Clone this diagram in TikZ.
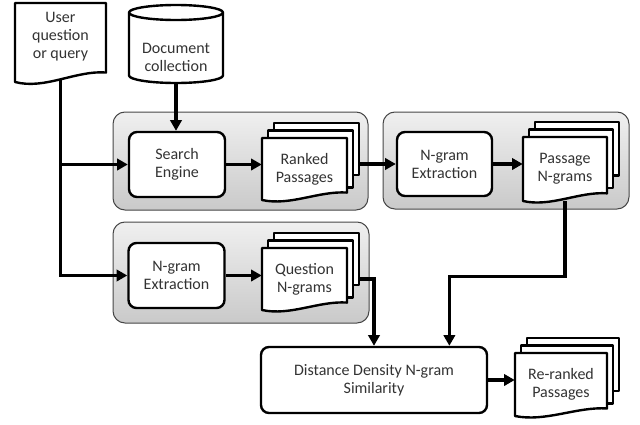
\documentclass[tikz,border=0pt]{standalone}
\usepackage{fontspec}
\setmainfont{Carlito}
\usetikzlibrary{arrows.meta,calc}
\pgfdeclarelayer{bg}
\pgfdeclarelayer{lines}
\pgfsetlayers{bg,lines,main}

\tikzset{every picture/.style={line width=0.75pt}}
\tikzset{
  groupbox/.style={draw=gray!55!black, line width=0.75pt, rounded corners=9pt,
    top color=gray!12, bottom color=gray!42, inner sep=0pt},
  procbox/.style={draw=black, line width=1.8pt, fill=white, rounded corners=6pt,
    minimum width=72pt, minimum height=48.75pt, align=center, inner sep=0pt,
    font=\fontsize{12}{13.5}\selectfont, text=black!80},
  doctext/.style={align=center, inner sep=0pt,
    font=\fontsize{12}{13.5}\selectfont, text=black!80},
  docline/.style={draw=black, line width=1.8pt, fill=white, line join=round},
  flow/.style={line width=2.6pt, -{Triangle[length=8pt,width=8.5pt]}},
}

% sheet with a wavy bottom: left, top, width, height
\newcommand{\wavedoc}[4]{%
  \draw[docline] (#1,#2) -- ({#1+#3},#2) -- ({#1+#3},{#2+0.88*#4})
    .. controls ({#1+0.67*#3},{#2+0.85*#4}) and ({#1+0.33*#3},{#2+1.1*#4}) .. (#1,{#2+#4}) -- cycle;}
% three stacked sheets
\newcommand{\docstack}[4]{%
  \draw[docline] ({#1+12},{#2-15}) rectangle ({#1+#3+12},{#2+0.6*#4});
  \draw[docline] ({#1+6},{#2-7.5}) rectangle ({#1+#3+6},{#2+0.8*#4});
  \wavedoc{#1}{#2}{#3}{#4}}

\begin{document}
\begin{tikzpicture}[x=0.75pt,y=0.75pt,yscale=-1,xscale=1]
\useasboundingbox (0,0) rectangle (640,425);

% grey frames
\begin{pgfonlayer}{bg}
\node[groupbox, minimum width=191.25pt, minimum height=73.5pt] (retrieve) at (240.5,161) {};
\node[groupbox, minimum width=184.5pt, minimum height=72.75pt] (pextract) at (506,160.5) {};
\node[groupbox, minimum width=192pt, minimum height=75.75pt] (qextract) at (241,272.5) {};
\end{pgfonlayer}

%Shape: Document
\wavedoc{15}{3}{91}{79}
% Text Node
\node[doctext, minimum height=64.5pt] (user) at (60.5,37) {User\\question\\or query};

%Shape: Can
\draw[docline] (129,12.5) -- (129,75.5) arc[start angle=180, end angle=0, x radius=47, y radius=7.5]
  -- (223,12.5) arc[start angle=0, end angle=-180, x radius=47, y radius=7.5] -- cycle;
\draw[docline, fill=none] (129,12.5) arc[start angle=180, end angle=0, x radius=47, y radius=7.5];
% Text Node
\node[doctext, minimum height=39pt] (doccol) at (176,57) {Document\\collection};

% Process boxes
\node[procbox] (search) at (177,164.5) {Search\\Engine};
\node[procbox, minimum width=71.25pt, minimum height=48pt] (ngram) at (444.5,164) {N-gram\\Extraction};
\node[procbox] (qngram) at (176.5,275.5) {N-gram\\Extraction};
\node[procbox, minimum width=169.5pt, minimum height=49.5pt] (dist) at (374,380) {Distance Density N-gram\\Similarity};

%Shape: Multidocument
\docstack{262}{138}{85}{62}
\node[doctext, minimum width=63.75pt, minimum height=46.5pt] (ranked) at (304.5,169) {Ranked\\Passages};
%Shape: Multidocument
\docstack{523}{137}{84}{64}
\node[doctext, minimum width=63pt, minimum height=48pt] (passage) at (565,169) {Passage\\N-grams};
%Shape: Multidocument
\docstack{262}{248}{85}{62}
\node[doctext, minimum width=63.75pt, minimum height=46.5pt] (question) at (304.5,279) {Question\\N-grams};
%Shape: Multidocument
\docstack{515}{353}{92}{63}
\node[doctext, minimum width=69pt, minimum height=47.25pt] (reranked) at (561,384.5) {Re-ranked\\Passages};

% Connectors
\begin{pgfonlayer}{lines}
\draw[flow] (user.south) |- (search.west);
\draw[flow] (user.south) |- (qngram.west);
\draw[flow] (doccol.south) -- (doccol.south |- search.north);
\draw[flow] (search.east) -- (search.east -| ranked.west);
\draw[flow] (ngram.west -| ranked.east) -- (ngram.west);
\draw[flow] (ngram.east) -- (ngram.east -| passage.west);
\draw[flow] (qngram.east) -- (qngram.east -| question.west);
\draw[flow] (question.east) -| (dist.north);
\draw[flow] (passage.south) -- ++(0,75) -| ($(dist.north)!0.66!(dist.north east)$);
\draw[flow] (dist.east) -- (dist.east -| reranked.west);
\end{pgfonlayer}

\end{tikzpicture}
\end{document}
